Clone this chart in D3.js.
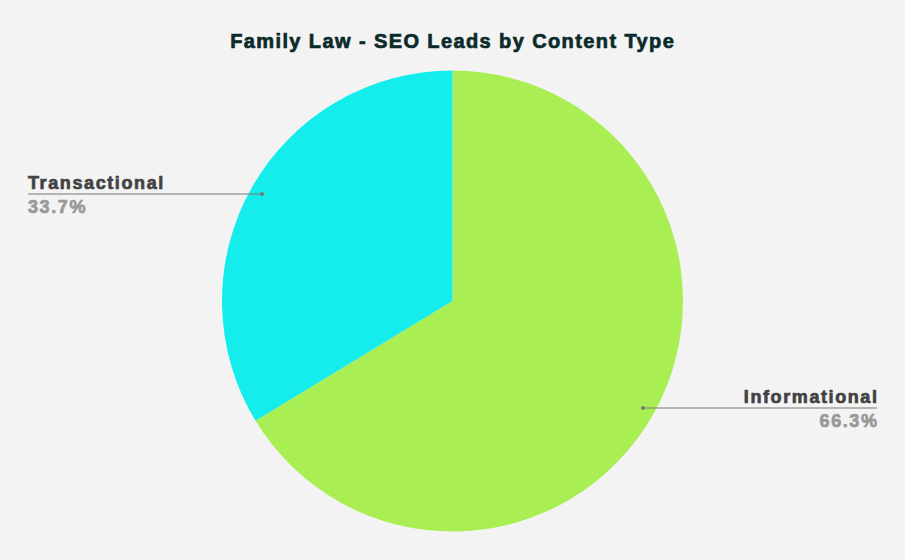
<!DOCTYPE html>
<html><head><meta charset="utf-8">
<script src="https://cdn.jsdelivr.net/npm/d3@7"></script>
<style>body{margin:0;background:#f3f3f3;}svg{display:block;}</style>
</head><body>
<script>
const categories = ["Informational", "Transactional"];
const values = [66.3, 33.7];
const colors = ["#a9ee52", "#15ecec"];

const W = 905, H = 560;
const svg = d3.select("body").append("svg").attr("width", W).attr("height", H);
svg.append("rect").attr("width", W).attr("height", H).attr("fill", "#f3f3f3");
const font = "Liberation Sans, Arial, sans-serif";

svg.append("text").attr("x", 452 + 0.7).attr("y", 48).attr("text-anchor", "middle")
  .attr("font-family", font).attr("font-weight", "bold")
  .attr("font-size", 20).attr("letter-spacing", 1.4).attr("fill", "#0b2b2b")
  .attr("stroke", "#0b2b2b").attr("stroke-width", 0.7)
  .text("Family Law - SEO Leads by Content Type");

const cx = 452.5, cy = 301, r = 230.5;
const data = categories.map((c, i) => ({ c, v: values[i], col: colors[i] }));
const pie = d3.pie().value(d => d.v).sort(null);
const arcs = pie(data);
const arc = d3.arc().innerRadius(0).outerRadius(r);
const g = svg.append("g").attr("transform", `translate(${cx},${cy})`);
g.selectAll("path").data(arcs).join("path").attr("d", arc).attr("fill", d => d.data.col);

const labels = [
  { i: 1, side: "left", lineY: 194, x0: 28, dotX: 262 },
  { i: 0, side: "right", lineY: 408, x0: 877, dotX: 643 }
];
labels.forEach(L => {
  const a = arcs[L.i];
  const pct = (a.data.v).toFixed(1) + "%";
  svg.append("line").attr("x1", L.x0).attr("x2", L.dotX).attr("y1", L.lineY).attr("y2", L.lineY)
    .attr("stroke", "#777").attr("stroke-width", 1);
  svg.append("circle").attr("cx", L.dotX).attr("cy", L.lineY).attr("r", 2).attr("fill", "#777");
  const anchor = L.side === "left" ? "start" : "end";
  const ls = 1.6;
  const tx = L.side === "left" ? L.x0 : L.x0 + ls;
  svg.append("text").attr("x", tx).attr("y", L.lineY - 5).attr("text-anchor", anchor)
    .attr("font-family", font).attr("font-weight", "bold").attr("font-size", 18)
    .attr("letter-spacing", ls).attr("fill", "#424242")
    .attr("stroke", "#424242").attr("stroke-width", 0.7).text(a.data.c);
  svg.append("text").attr("x", tx).attr("y", L.lineY + 19).attr("text-anchor", anchor)
    .attr("font-family", font).attr("font-weight", "bold").attr("font-size", 18)
    .attr("letter-spacing", ls).attr("fill", "#999")
    .attr("stroke", "#999").attr("stroke-width", 0.7).text(pct);
});
</script>
</body></html>
